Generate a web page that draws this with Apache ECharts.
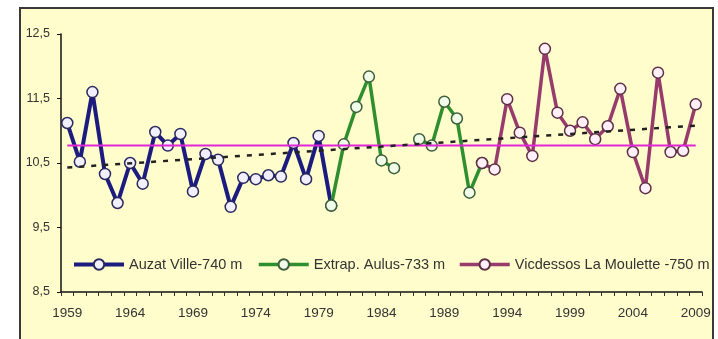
<!DOCTYPE html>
<html>
<head>
<meta charset="utf-8">
<script src="https://cdn.jsdelivr.net/npm/echarts@6/dist/echarts.min.js"></script>
<style>
html,body{margin:0;padding:0;background:#ffffff;}
#c{width:718px;height:339px;}
</style>
</head>
<body>
<div id="c"></div>
<script>
var years = ['1959','1960','1961','1962','1963','1964','1965','1966','1967','1968','1969','1970','1971','1972','1973','1974','1975','1976','1977','1978','1979','1980','1981','1982','1983','1984','1985','1986','1987','1988','1989','1990','1991','1992','1993','1994','1995','1996','1997','1998','1999','2000','2001','2002','2003','2004','2005','2006','2007','2008','2009'];

// Auzat Ville 1959-1980
var auzat = [11.12, 10.52, 11.6, 10.33, 9.88, 10.5, 10.18, 10.98, 10.77, 10.95, 10.06, 10.64, 10.55, 9.82, 10.27, 10.25, 10.31, 10.29, 10.81, 10.25, 10.92, 9.84,
  null, null, null, null, null, null, null, null, null, null, null, null, null, null, null, null, null, null, null, null, null, null, null, null, null, null, null, null, null];
// Extrap. Aulus 1980-1992 (1986 missing)
var aulus = [null, null, null, null, null, null, null, null, null, null, null, null, null, null, null, null, null, null, null, null, null,
  9.84, 10.79, 11.37, 11.84, 10.54, 10.42, null, 10.87, 10.77, 11.45, 11.19, 10.04, 10.5,
  null, null, null, null, null, null, null, null, null, null, null, null, null, null, null, null, null];
// Vicdessos La Moulette 1992-2009
var vicdessos = [null, null, null, null, null, null, null, null, null, null, null, null, null, null, null, null, null, null, null, null, null, null, null, null, null, null, null, null, null, null, null, null, null,
  10.5, 10.4, 11.49, 10.97, 10.61, 12.27, 11.28, 11.0, 11.13, 10.87, 11.07, 11.65, 10.67, 10.11, 11.9, 10.67, 10.69, 11.41];

var meanValue = [10.77, 10.77];      // 1959, 2009
var trendValue = [10.43, 11.08];     // 1959, 2009
var yTicks = [8.5, 9.5, 10.5, 11.5, 12.5];

var names = ['Auzat Ville-740 m', 'Extrap. Aulus-733 m', 'Vicdessos La Moulette -750 m'];

function endpoints(pair) {
  var d = years.map(function () { return null; });
  d[0] = pair[0];
  d[years.length - 1] = pair[1];
  return d;
}

var FONT = 'Liberation Sans';
var chart = echarts.init(document.getElementById('c'), null, {renderer: 'canvas'});

function lineSeries(name, data, color, width, symFill, symBorder) {
  return {
    name: name, type: 'line', data: data,
    symbol: 'circle', symbolSize: 11, showSymbol: true, showAllSymbol: true,
    connectNulls: false,
    lineStyle: {color: color, width: width},
    itemStyle: {color: symFill, borderColor: symBorder, borderWidth: 1.5},
    z: 3
  };
}

function legendAt(name, left, lw) {
  return {
    data: [name], left: left, top: 257, padding: 0,
    itemWidth: 50, itemHeight: 13, itemGap: 2,
    lineStyle: {width: lw},
    textStyle: {fontFamily: FONT, fontSize: 14.5, color: '#333'}
  };
}

chart.setOption({
  animation: false,
  backgroundColor: 'transparent',
  graphic: [{
    type: 'rect', z: -10, silent: true,
    shape: {x: 20, y: 8, width: 693, height: 345},
    style: {fill: '#FFFDCB', stroke: '#3a3a3a', lineWidth: 2}
  }],
  legend: [legendAt(names[0], 72, 4), legendAt(names[1], 257, 3.5), legendAt(names[2], 458, 3.5)],
  grid: {left: 61, right: 16, top: 34, bottom: 47, containLabel: false},
  xAxis: {
    type: 'category', data: years, boundaryGap: true,
    axisLine: {show: true, lineStyle: {color: '#111', width: 1.5}},
    axisTick: {show: true, interval: 0, length: 4, lineStyle: {color: '#333'}},
    axisLabel: {interval: 4, margin: 14, fontFamily: FONT, fontSize: 13.5, color: '#333'},
    splitLine: {show: false}
  },
  yAxis: {
    type: 'value', min: yTicks[0], max: yTicks[yTicks.length - 1], interval: 1,
    axisLine: {show: true, lineStyle: {color: '#111', width: 1.5}},
    axisTick: {show: true, length: 4, lineStyle: {color: '#111'}},
    axisLabel: {margin: 11, fontFamily: FONT, fontSize: 12.5, color: '#333',
      formatter: function (v) { return v.toFixed(1).replace('.', ','); }},
    splitLine: {show: false}
  },
  series: [
    {
      name: 'moyenne', type: 'line', data: endpoints(meanValue), connectNulls: true,
      symbol: 'none', lineStyle: {color: '#e026d6', width: 2}, z: 4, silent: true
    },
    {
      name: 'tendance', type: 'line', data: endpoints(trendValue), connectNulls: true,
      symbol: 'none', lineStyle: {color: '#222', width: 2.5, type: [5, 7]}, z: 4, silent: true
    },
    lineSeries(names[0], auzat, '#1b1b80', 4, '#f2f0ff', '#2a2a60'),
    lineSeries(names[1], aulus, '#2f8f2f', 3.5, '#f0fbe8', '#3d5f3d'),
    lineSeries(names[2], vicdessos, '#973a6c', 3.5, '#fff0f8', '#5e3048')
  ]
});
</script>
</body>
</html>
